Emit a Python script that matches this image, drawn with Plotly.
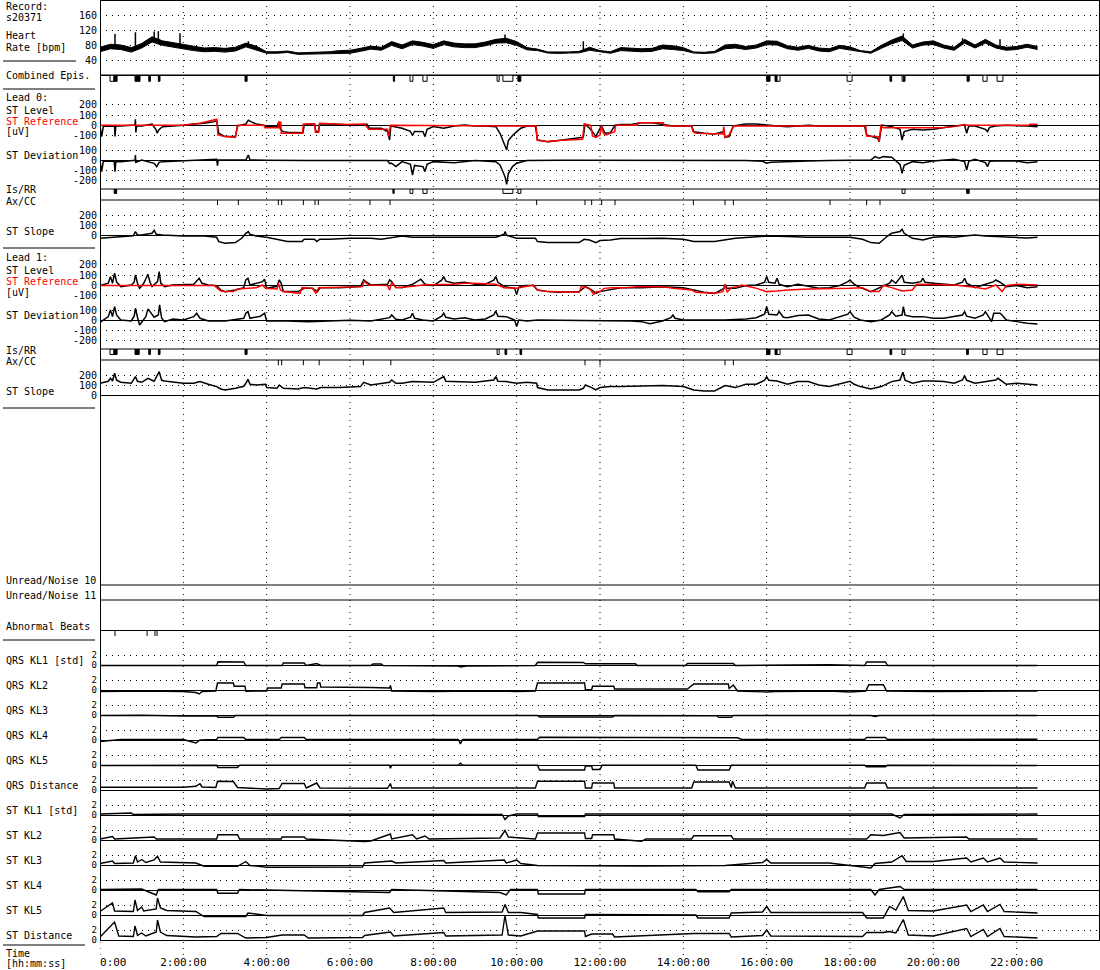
import plotly.graph_objects as go

W, H = 1100, 970
FONT = "DejaVu Sans Mono"

# ---------------- data (time in hours) ----------------
x_tick_vals = [0, 2, 4, 6, 8, 10, 12, 14, 16, 18, 20, 22]
x_tick_text = ["\u00a0\u00a0\u00a0\u00a00:00", "2:00:00", "4:00:00", "6:00:00", "8:00:00", "10:00:00",
               "12:00:00", "14:00:00", "16:00:00", "18:00:00", "20:00:00", "22:00:00"]

hr_t = [i * 0.25 for i in range(91)]
hr_mid = [68, 76, 74, 67, 78, 95, 85, 80, 76, 70, 67, 68, 66, 69, 80, 72, 60, 60, 62, 57, 58, 58, 60, 62,
          62, 67, 73, 70, 84, 75, 86, 82, 76, 86, 80, 78, 78, 83, 90, 92, 84, 70, 67, 60, 59, 60, 61, 70,
          63, 60, 69, 67, 66, 67, 75, 73, 69, 60, 59, 61, 75, 77, 72, 76, 86, 85, 74, 70, 75, 68, 66, 75,
          71, 63, 60, 75, 88, 98, 76, 84, 86, 76, 70, 90, 76, 90, 76, 70, 72, 78, 72]
hr_half = [6, 6, 6, 6, 6, 7, 6, 6, 6, 5, 5, 5, 5, 5, 5, 5, 2, 2, 2, 2, 2, 2, 2, 3,
           4, 4, 4, 4, 5, 5, 5, 5, 5, 5, 5, 5, 5, 5, 5, 6, 5, 3, 2, 1.5, 1.5, 1.5, 2, 4,
           2, 2, 4, 4, 4, 4, 5, 5, 4, 1.5, 1.5, 2, 5, 5, 4, 4, 5, 5, 4, 4, 4, 4, 4, 4,
           4, 2, 2, 4, 5, 6, 4, 4, 5, 4, 4, 5, 4, 5, 4, 4, 4, 4, 4]
hr_spike_t = [0.36, 0.85, 1.3, 1.4, 1.92, 3.56, 9.72, 11.6, 19.28, 20.7, 21.6]
hr_spike_lo = [76, 78, 95, 93, 76, 78, 92, 62, 95, 86, 80]
hr_spike_hi = [109, 114, 116, 117, 111, 90, 108, 90, 111, 98, 95]

l0_lvl_t = [0, 0.04, 0.08, 0.25, 0.35, 0.36, 0.38, 0.5, 0.75, 0.84, 0.85, 0.86, 0.88, 1.0, 1.25, 1.35, 1.37, 1.42,
            1.5, 1.75, 2.0, 2.25, 2.5, 2.75, 2.8, 2.85, 3.0, 3.25, 3.3, 3.5, 3.56, 3.62, 3.75, 3.9, 4.0, 4.25,
            4.29, 4.33, 4.4, 4.5, 4.75, 4.87, 4.9, 5.0, 5.15, 5.18, 5.24, 5.27, 5.5, 5.75, 6.0, 6.25, 6.4, 6.47,
            6.75, 6.9, 6.95, 6.98, 7.25, 7.45, 7.5, 7.55, 7.75, 7.8, 7.85, 8.0, 8.25, 8.5, 8.75, 9.0, 9.25, 9.5,
            9.6, 9.72, 9.76, 9.8, 9.9, 10.0, 10.1, 10.25, 10.45, 10.5, 10.75, 11.0, 11.25, 11.5, 11.6, 11.64,
            11.75, 11.85, 11.9, 12.0, 12.04, 12.12, 12.25, 12.36, 12.5, 12.75, 13.0, 13.25, 13.5, 13.75, 14.0,
            14.2, 14.25, 14.5, 14.75, 14.97, 15.0, 15.1, 15.2, 15.5, 15.75, 16.0, 16.25, 16.5, 16.75, 17.0,
            17.25, 17.5, 17.75, 18.0, 18.35, 18.4, 18.56, 18.66, 18.7, 18.74, 18.76, 19.0, 19.2, 19.25, 19.3,
            19.5, 19.75, 20.0, 20.25, 20.5, 20.75, 20.8, 20.85, 21.0, 21.25, 21.3, 21.35, 21.5, 21.75, 22.0,
            22.25, 22.5]
l0_lvl_v = [-10, -110, -10, -7, -8, -110, -8, -7, 3, 3, 59, -70, -5, -7, 13, -46, -78, -40,
            -13, -7, 0, 13, 20, 36, 50, -78, -111, -111, -7, 13, 50, 36, 13, 3, -13, -13,
            36, -40, -62, -69, -72, -72, 0, 13, 13, -62, -62, 13, 13, 7, 0, 0, 13, -29,
            -29, -62, -144, -7, -29, -60, -100, -60, -62, -111, -40, -13, -29, -7, 3, -7, -7, -13,
            -78, -209, -242, -150, -100, -62, -29, -7, -7, -144, -160, -150, -137, -127, -118, 13,
            -29, -80, -111, -30, -7, -78, -72, 0, 7, 7, 26, 26, 13, -7, -7,
            -7, -62, -78, -85, -62, -118, -111, -7, 13, 13, 0, -7, -13, -7, 0,
            -7, -7, 0, -7, -7, -95, -111, -127, -160, -20, 3, -13, -40, -144, -62,
            -39, -46, -39, -20, -7, 3, -78, -7, -7, -40, -62, -20, -7, 0, 0,
            -7, -13]

l0_ref_t = [0, 2.0, 2.4, 2.8, 2.83, 3.0, 3.25, 3.3, 3.95, 3.96, 4.28, 4.29, 4.34, 4.35, 4.86, 4.88, 5.15, 5.17,
            5.25, 5.27, 5.9, 6.35, 6.45, 6.9, 6.93, 6.97, 9.9, 10.47, 10.49, 10.75, 11.0, 11.58, 11.62, 11.78,
            11.82, 11.9, 12.0, 12.04, 12.08, 12.15, 12.35, 12.38, 12.9, 12.92, 13.52, 13.54, 13.6, 14.2, 14.23,
            14.3, 14.95, 14.97, 15.0, 15.1, 15.2, 18.38, 18.4, 18.68, 18.7, 18.74, 18.8, 20.2, 20.5, 20.75,
            20.8, 22.3, 22.32, 22.5]
l0_ref_v = [0, 0, 20, 59, -95, -111, -118, 0, 0, -23, -23, 30, 30, -78, -78, 13, 13, -69,
            -69, 20, 7, 13, -39, -39, -111, 0, -7, -7, -144, -160, -150, -137, 13, 0,
            -105, -118, -95, 0, -78, -95, -62, 0, 0, 26, 26, 0, -7, -7, -62,
            -78, -85, -13, -118, -95, -7, -7, -105, -111, -160, -7, -23, -23, -13, 7,
            0, 0, 10, 10]

l0_dev_t = [0, 0.04, 0.08, 0.34, 0.36, 0.38, 0.5, 0.84, 0.85, 0.86, 1.0, 1.3, 1.36, 1.42, 1.5, 2.0, 2.8, 2.82,
            2.84, 3.0, 3.5, 3.56, 3.6, 4.0, 4.5, 5.0, 6.0, 6.9, 6.95, 7.0, 7.1, 7.25, 7.45, 7.5, 7.55, 7.75,
            7.8, 7.85, 8.0, 8.5, 9.0, 9.5, 9.6, 9.72, 9.76, 9.8, 9.9, 10.0, 10.25, 10.5, 11.0, 11.5, 12.0,
            12.5, 13.0, 14.0, 15.0, 15.5, 15.9, 16.0, 16.1, 16.5, 17.0, 17.5, 18.0, 18.5, 18.6, 18.7, 18.8,
            19.0, 19.2, 19.25, 19.3, 19.5, 19.75, 20.0, 20.5, 20.75, 20.8, 20.85, 21.0, 21.25, 21.3, 21.35,
            21.5, 22.0, 22.25, 22.5]
l0_dev_v = [-7, -111, -7, -10, -111, -13, -13, 0, 52, -20, 3, -30, -62, -20, -13, -7, 10, -52,
            3, 3, 3, 52, 3, 0, -3, -3, -3, -3, -30, -29, -62, -13, -40, -144, -50, -62,
            -111, -40, -13, -23, -3, -13, -46, -160, -235, -130, -62, -29, -3, 0, 0, 0, 0,
            0, -7, -7, -7, -3, -10, -29, -20, -13, -7, -3, -3, 3, 36, 20, 36,
            30, -40, -127, -50, -13, -23, -7, 10, -13, -95, -10, 10, -23, -62, -10,
            -7, -7, -23, -13]

l0_slope_t = [0, 0.25, 0.5, 0.8, 0.85, 0.9, 1.0, 1.25, 1.3, 1.35, 1.5, 2.0, 2.5, 2.8, 2.85, 3.0, 3.25, 3.4,
              3.5, 3.56, 3.6, 3.75, 4.0, 4.35, 4.5, 4.85, 4.9, 5.15, 5.2, 5.27, 5.5, 6.0, 6.5, 6.75, 7.0,
              7.25, 7.5, 8.0, 9.0, 9.5, 9.7, 9.72, 9.76, 10.0, 10.45, 10.5, 10.75, 11.5, 11.62, 11.75, 11.9,
              12.0, 12.25, 12.5, 13.0, 13.5, 14.0, 14.25, 14.75, 15.0, 15.25, 15.5, 16.0, 16.5, 17.0, 18.0,
              18.3, 18.5, 18.7, 18.9, 19.0, 19.2, 19.25, 19.3, 19.5, 19.75, 20.0, 20.25, 20.5, 20.75, 21.0,
              21.25, 21.5, 21.75, 22.0, 22.25, 22.5]
l0_slope_v = [-30, -20, -13, -5, 37, 3, 3, 20, 50, 10, 3, -7, -7, -20, -63, -80, -73, -30,
              20, 37, 10, -7, -20, -53, -63, -63, -40, -40, -63, -40, -40, -30, -30, -40, -20,
              -7, -20, -20, -20, -20, 10, 37, 0, -30, -30, -63, -73, -73, -40, -47, -73,
              -53, -47, -33, -33, -30, -40, -63, -63, -47, -30, -23, -7, -13, -20, -20,
              -40, -73, -80, -7, 20, 37, 60, 20, -30, -47, -20, -13, -20, -7, 3,
              -7, -13, -20, -20, -27, -20]

l1_lvl_t = [0, 0.2, 0.25, 0.3, 0.35, 0.4, 0.5, 0.75, 0.82, 0.85, 0.9, 0.95, 1.05, 1.15, 1.2, 1.25, 1.38, 1.42,
            1.46, 1.55, 1.75, 2.0, 2.25, 2.38, 2.45, 2.6, 2.8, 2.9, 3.0, 3.25, 3.45, 3.5, 3.55, 3.6, 3.9, 3.95,
            4.0, 4.25, 4.3, 4.35, 4.4, 4.75, 4.9, 5.1, 5.22, 5.28, 5.75, 6.25, 6.33, 6.4, 6.5, 6.9, 6.95, 7.0,
            7.1, 7.25, 7.5, 7.7, 7.75, 7.8, 8.0, 8.2, 8.25, 8.3, 8.5, 8.75, 9.0, 9.25, 9.45, 9.5, 9.55, 9.7,
            9.95, 10.0, 10.05, 10.2, 10.4, 10.5, 10.75, 11.0, 11.5, 11.65, 11.8, 11.9, 12.0, 12.25, 12.5, 13.0,
            13.5, 14.0, 14.25, 14.5, 14.75, 14.98, 15.0, 15.05, 15.25, 15.5, 15.75, 15.95, 16.0, 16.05, 16.2,
            16.25, 16.3, 16.5, 16.75, 17.0, 17.25, 17.5, 17.75, 17.95, 18.0, 18.1, 18.25, 18.5, 18.75, 18.95,
            19.0, 19.1, 19.25, 19.3, 19.5, 19.7, 19.75, 19.8, 20.0, 20.25, 20.5, 20.7, 20.75, 20.8, 21.0,
            21.25, 21.45, 21.5, 21.6, 21.75, 22.0, 22.25, 22.5]
l1_lvl_v = [-3, 20, 85, 20, 118, 30, -13, 3, 30, 102, 20, -30, 20, 108, 30, -13, 36, 134,
            20, -13, 3, 3, 10, 69, 20, 3, -3, -46, -62, -46, -23, 52, 69, 3, 36, 60,
            -30, -10, 52, 20, -62, -62, -30, -30, -62, -23, -23, -13, 52, 30, 3, 10, 52, 36,
            -20, -23, 10, 60, 36, 10, -3, 50, 85, 40, 20, 30, 10, 10, 50, 85, 30, -13,
            -30, -89, -20, -3, -3, -46, -62, -69, -62, -13, -46, -79, -62, -46, -23, -23,
            -13, -23, -46, -69, -79, -30, 10, -30, -30, -3, 3, 30, 85, 30, 20,
            69, 10, -13, 10, -13, -30, -23, -3, 36, 52, 10, -23, -62, -13, 20,
            52, 20, 100, 30, 20, 36, 69, 30, 20, 10, 3, 30, 69, 20, -23,
            10, 36, 52, 30, -13, -3, -23, -13]

l1_ref_t = [0, 2.75, 2.8, 2.9, 3.0, 3.2, 3.3, 3.5, 3.75, 3.9, 3.97, 4.25, 4.28, 4.33, 4.4, 4.8, 4.85, 5.1,
            5.18, 5.25, 6.3, 6.33, 6.45, 6.9, 6.95, 7.0, 7.1, 7.4, 7.75, 8.5, 8.75, 9.0, 9.5, 9.7, 10.0, 10.4,
            10.5, 10.75, 11.2, 11.5, 11.55, 11.75, 11.85, 11.92, 12.0, 12.1, 12.3, 12.6, 12.9, 13.5, 13.75,
            14.2, 14.3, 14.75, 14.95, 15.0, 15.05, 15.15, 15.3, 15.4, 15.7, 16.0, 16.25, 16.5, 17.0, 17.75,
            18.0, 18.3, 18.5, 18.7, 18.8, 19.0, 19.25, 19.5, 19.6, 20.5, 20.9, 21.25, 21.5, 21.65, 21.75,
            22.0, 22.5]
l1_ref_v = [-3, -3, -23, -56, -62, -62, -36, -30, -23, 3, -30, -36, 20, -46, -62, -79, -23, -30,
            -79, -23, -13, 42, 3, -3, -46, 30, -23, -13, 3, 10, 20, 20, 10, -23, -30, 3,
            -46, -62, -69, -69, -13, -30, -89, -62, -62, -30, -23, -23, -13, -13, -30,
            -46, -69, -79, -62, 10, -69, -23, -13, 3, -23, -62, -56, -46, -36, -36,
            -30, -23, -62, -62, 0, -23, -56, -46, 10, 3, -13, -36, 3, -62, -3,
            10, 3]

l1_dev_t = [0, 0.2, 0.25, 0.3, 0.35, 0.4, 0.5, 0.75, 0.82, 0.85, 0.9, 0.95, 1.1, 1.15, 1.2, 1.3, 1.4, 1.43,
            1.48, 1.55, 1.75, 2.0, 2.25, 2.32, 2.4, 2.6, 3.0, 3.45, 3.5, 3.55, 3.6, 3.85, 3.95, 4.0, 4.5, 5.0,
            5.5, 6.0, 6.5, 6.95, 7.0, 7.1, 7.25, 7.45, 7.5, 7.55, 7.75, 8.0, 8.2, 8.25, 8.3, 8.5, 8.75, 9.0,
            9.25, 9.45, 9.5, 9.55, 9.75, 9.95, 10.0, 10.05, 10.25, 10.5, 11.0, 12.0, 12.75, 13.0, 13.2, 13.5,
            13.7, 13.75, 13.8, 14.0, 14.5, 15.0, 15.5, 15.75, 15.95, 16.0, 16.05, 16.25, 16.3, 16.4, 16.5,
            16.75, 17.0, 17.25, 17.5, 17.75, 17.95, 18.0, 18.1, 18.25, 18.5, 18.75, 18.95, 19.0, 19.1, 19.25,
            19.28, 19.32, 19.5, 19.75, 20.0, 20.25, 20.5, 20.7, 20.75, 20.8, 21.0, 21.2, 21.25, 21.35, 21.4,
            21.45, 21.6, 21.65, 21.75, 22.0, 22.25, 22.5]
l1_dev_v = [-20, 36, 102, 36, 134, 50, 3, -7, 40, 118, 30, -46, 36, 110, 85, 30, 52, 151,
            20, -13, 13, 3, 36, 69, 20, -7, -7, 20, 69, 85, 20, 40, 69, -7, -7, -13,
            -7, 0, -7, 26, 52, 10, 3, 30, 69, 20, 3, -7, 40, 69, 30, 13, 26, 3,
            13, 52, 92, 40, 36, 3, -62, 3, -7, 3, 0, 0, -7, -13, -33, -7,
            26, 52, 20, 3, 0, 3, 13, 26, 60, 134, 60, 52, 85, 30, 26,
            46, 52, 13, 3, 36, 60, 85, 30, 3, -13, 3, 52, 85, 40, 52,
            134, 50, 36, 36, 20, 20, 36, 52, 85, 40, 20, 52, 85, 20, -13,
            69, 69, 52, 3, -13, -30, -36]

l1_slope_t = [0, 0.2, 0.25, 0.3, 0.35, 0.4, 0.5, 0.75, 0.85, 0.9, 1.0, 1.15, 1.2, 1.3, 1.42, 1.48, 1.55, 1.75,
              2.0, 2.25, 2.4, 2.6, 2.8, 2.9, 3.0, 3.25, 3.45, 3.5, 3.55, 3.6, 3.75, 3.97, 4.0, 4.25, 4.3, 4.4,
              4.75, 4.9, 5.2, 5.3, 5.75, 6.25, 6.33, 6.5, 6.95, 7.0, 7.1, 7.25, 7.5, 8.0, 8.2, 8.25, 8.3, 8.5,
              9.0, 9.45, 9.5, 9.55, 9.75, 10.0, 10.25, 10.48, 10.5, 10.75, 11.5, 11.6, 11.65, 11.8, 11.9, 12.0,
              12.25, 12.5, 13.0, 13.5, 14.0, 14.25, 14.5, 14.75, 15.0, 15.25, 15.5, 15.75, 15.95, 16.0, 16.05,
              16.25, 16.5, 16.75, 17.0, 17.25, 17.5, 17.75, 18.0, 18.1, 18.25, 18.5, 18.75, 19.0, 19.2, 19.27,
              19.32, 19.5, 19.75, 20.0, 20.25, 20.5, 20.7, 20.75, 20.8, 21.0, 21.25, 21.5, 21.55, 21.75, 22.0,
              22.25, 22.5]
l1_slope_v = [120, 140, 170, 143, 220, 150, 130, 120, 187, 140, 130, 170, 160, 140, 236, 150, 143, 130,
              120, 120, 137, 110, 87, 63, 53, 70, 90, 120, 160, 110, 103, 110, 77, 70, 103, 70,
              63, 77, 63, 77, 77, 87, 130, 103, 130, 153, 120, 120, 137, 130, 170, 187, 140, 137,
              130, 153, 187, 140, 137, 120, 130, 120, 77, 53, 53, 70, 103, 77, 53, 77,
              87, 87, 93, 97, 87, 53, 43, 43, 97, 77, 110, 110, 150, 187, 150,
              143, 110, 137, 137, 103, 87, 110, 140, 110, 87, 63, 87, 137, 153, 230,
              150, 120, 143, 143, 137, 120, 153, 196, 150, 120, 137, 153, 170, 110, 120,
              110, 103]

# event rows: (start h, end h, filled)
comb_epis = [(0.24, 0.33, 0), (0.33, 0.41, 1), (0.84, 0.96, 1), (1.17, 1.21, 1), (1.40, 1.44, 1),
             (3.48, 3.53, 1), (7.04, 7.07, 1), (7.44, 7.51, 0), (7.75, 7.85, 0), (9.53, 9.58, 0),
             (9.67, 9.91, 0), (10.03, 10.10, 1), (16.0, 16.08, 1), (16.2, 16.25, 1), (16.25, 16.32, 0),
             (17.93, 18.05, 0), (18.96, 19.0, 1), (19.25, 19.28, 0), (19.28, 19.32, 1), (20.81, 20.86, 1),
             (21.19, 21.29, 0), (21.53, 21.67, 0)]
l0_isrr = [(0.34, 0.40, 1), (7.03, 7.06, 1), (7.44, 7.51, 0), (7.75, 7.85, 0), (9.67, 9.91, 0),
           (10.03, 10.10, 0), (19.25, 19.32, 0), (20.80, 20.86, 1)]
l1_isrr = [(0.24, 0.33, 0), (0.33, 0.41, 1), (0.84, 0.94, 1), (1.17, 1.21, 1), (1.40, 1.44, 1),
           (3.48, 3.53, 1), (9.53, 9.58, 0), (9.72, 9.76, 1), (10.08, 10.12, 1), (16.0, 16.08, 1),
           (16.2, 16.25, 1), (16.25, 16.32, 0), (17.93, 18.05, 0), (18.96, 19.0, 1), (19.25, 19.32, 0),
           (20.80, 20.84, 1), (21.19, 21.29, 0), (21.53, 21.67, 0)]
l0_ref_marks = [2.82, 3.32, 4.28, 4.36, 4.88, 5.16, 5.24, 6.48, 6.96, 10.48, 11.64, 11.8, 12.04, 12.36,
                14.24, 15.0, 15.2, 17.52, 18.4, 18.72]
l1_ref_marks = [4.28, 4.36, 4.88, 5.26, 6.32, 6.98, 11.64, 12.0, 15.0, 15.2]
abnormal_beats = [0.36, 1.13, 1.32, 1.37]

kl_labels = ["QRS KL1 [std]", "QRS KL2", "QRS KL3", "QRS KL4", "QRS KL5", "QRS Distance",
             "ST KL1 [std]", "ST KL2", "ST KL3", "ST KL4", "ST KL5", "ST Distance"]
kl_t = [
    [0, 2.8, 2.83, 3.45, 3.5, 4.37, 4.4, 4.9, 4.95, 5.2, 5.3, 6.5, 6.55, 6.75, 6.8, 8.6, 8.65, 8.8, 10.45,
     10.5, 11.6, 11.65, 12.85, 12.9, 14.05, 14.1, 15.2, 15.25, 17.5, 18.35, 18.4, 18.85, 18.9, 22.5],
    [0, 1.0, 2.0, 2.3, 2.38, 2.45, 2.78, 2.82, 3.2, 3.22, 3.48, 3.5, 4.0, 4.02, 4.35, 4.37, 4.9, 4.92, 5.2,
     5.22, 5.28, 5.3, 6.5, 6.95, 6.97, 7.0, 8.0, 9.0, 10.0, 10.45, 10.5, 11.63, 11.65, 11.8, 11.82, 12.33,
     12.35, 14.1, 14.25, 15.08, 15.1, 15.2, 15.3, 16.0, 16.2, 17.5, 18.0, 18.38, 18.45, 18.8, 18.88, 20.0,
     22.5],
    [0, 1.0, 2.0, 2.8, 2.83, 3.2, 3.25, 5.0, 7.0, 10.5, 10.55, 12.3, 12.35, 14.8, 14.85, 15.15, 15.2, 18.5,
     18.6, 18.7, 20.0, 22.5],
    [0, 0.5, 2.0, 2.3, 2.4, 2.8, 2.83, 3.45, 3.5, 4.3, 4.35, 4.9, 4.95, 8.6, 8.65, 8.7, 10.5, 10.55, 15.3,
     15.4, 18.35, 18.4, 18.85, 18.9, 22.5],
    [0, 2.8, 2.83, 3.3, 3.35, 6.95, 6.97, 7.0, 8.6, 8.65, 8.7, 10.5, 10.55, 11.63, 11.65, 11.8, 11.82,
     12.0, 12.05, 14.3, 14.35, 15.1, 15.15, 18.35, 18.4, 18.85, 18.9, 22.5],
    [0, 1.0, 2.0, 2.3, 2.4, 2.45, 2.78, 2.82, 3.2, 3.3, 4.0, 4.3, 4.37, 4.9, 4.95, 5.2, 5.28, 6.9, 6.97,
     7.0, 10.45, 10.5, 11.63, 11.65, 11.8, 11.82, 12.33, 12.35, 14.2, 14.25, 15.1, 15.15, 15.18, 15.25,
     18.35, 18.4, 18.85, 18.9, 22.5],
    [0, 0.75, 0.8, 2.0, 4.0, 6.0, 8.0, 9.65, 9.72, 9.8, 10.0, 10.5, 10.52, 11.63, 11.65, 14.0, 16.0, 19.0,
     19.2, 19.3, 22.5],
    [0, 0.3, 0.35, 1.3, 1.35, 2.8, 2.83, 3.3, 3.35, 4.35, 4.37, 4.9, 4.95, 6.35, 6.5, 6.97, 7.0, 7.5, 7.6,
     7.8, 7.9, 9.6, 9.72, 9.8, 10.1, 10.45, 10.5, 11.63, 11.65, 11.8, 11.82, 12.33, 12.35, 13.0, 13.1,
     14.2, 14.25, 15.15, 15.2, 18.4, 18.5, 18.8, 19.2, 19.3, 20.8, 20.85, 22.5],
    [0, 0.3, 0.35, 0.8, 0.85, 0.9, 1.0, 1.1, 1.3, 1.38, 1.45, 1.8, 2.3, 2.5, 3.3, 3.5, 3.6, 4.0, 5.0, 6.3,
     6.35, 7.0, 7.1, 8.25, 8.3, 9.7, 9.75, 10.0, 10.1, 10.5, 13.0, 15.0, 15.9, 16.0, 16.1, 17.5, 18.5, 18.6,
     19.0, 19.25, 19.35, 20.0, 20.8, 20.9, 21.2, 21.3, 21.6, 21.7, 22.5],
    [0, 1.0, 1.35, 1.4, 2.8, 2.83, 3.3, 3.35, 6.95, 7.0, 9.6, 9.75, 9.85, 10.5, 10.52, 11.63, 11.65, 14.3,
     14.35, 15.1, 15.15, 18.5, 18.6, 18.7, 19.2, 19.3, 22.5],
    [0, 0.3, 0.35, 0.8, 0.84, 0.9, 1.0, 1.05, 1.35, 1.38, 1.45, 1.6, 2.3, 2.5, 3.5, 3.55, 4.0, 6.3, 6.35,
     6.95, 7.05, 8.25, 8.3, 9.65, 9.72, 9.8, 10.1, 10.5, 10.52, 11.63, 11.65, 14.3, 14.35, 15.1, 15.15,
     15.9, 16.0, 16.1, 18.3, 18.4, 18.8, 18.95, 19.1, 19.28, 19.4, 20.0, 20.8, 20.9, 21.2, 21.3, 21.6, 21.7,
     22.5],
    [0, 0.35, 0.45, 0.8, 0.84, 0.9, 1.0, 1.1, 1.35, 1.38, 1.45, 1.6, 2.3, 2.8, 2.9, 3.3, 3.5, 4.0, 4.37,
     4.9, 5.0, 6.3, 6.35, 6.97, 7.05, 8.25, 8.3, 9.65, 9.72, 9.8, 10.1, 10.5, 11.63, 11.65, 11.8, 12.3,
     12.35, 14.25, 15.1, 15.15, 15.9, 16.0, 16.1, 18.3, 18.4, 18.8, 18.95, 19.1, 19.28, 19.4, 20.0, 20.8,
     20.9, 21.2, 21.3, 21.6, 21.7, 22.5],
]
kl_v = [
    [-0.1, -0.1, 0.65, 0.6, -0.1, -0.1, 0.4, 0.4, -0.1, 0.3, -0.1, -0.1, 0.2, 0.2, -0.1, -0.2, -0.4, -0.2,
     -0.1, 0.55, 0.5, 0.25, 0.25, -0.1, -0.1, 0.3, 0.3, -0.1, 0.05, -0.1, 0.6, 0.6, -0.1, -0.1],
    [-0.3, -0.2, -0.3, -0.5, -0.8, -0.3, -0.2, 1.4, 1.4, 0.75, 0.75, -0.25, -0.2, 0.4, 0.4, 1.2, 1.2, 0.45,
     0.45, 1.4, 1.4, 0.6, 0.5, 0.4, 0.9, -0.2, -0.3, -0.2, -0.3, -0.2, 1.4, 1.4, 0.05, 0.05, 0.75, 0.75,
     0.2, 0.2, 1.2, 1.2, 0.3, 1.0, -0.2, -0.4, -0.3, -0.2, -0.4, -0.2, 1.05, 1.05, -0.2, -0.3, -0.2],
    [-0.1, -0.05, -0.2, -0.15, -0.45, -0.45, -0.1, -0.15, -0.1, -0.1, -0.4, -0.4, -0.1, -0.15, -0.45,
     -0.45, -0.1, -0.1, -0.3, -0.1, -0.15, -0.1],
    [-0.3, 0.1, 0.1, -0.6, 0.0, 0.1, 0.5, 0.5, 0.1, 0.1, 0.5, 0.5, 0.1, 0.1, -0.8, 0.1, 0.1, 0.55, 0.45,
     0.1, 0.1, 0.5, 0.5, 0.1, 0.15],
    [-0.1, -0.05, -0.5, -0.5, -0.05, -0.05, -0.65, -0.05, 0.0, 0.35, 0.0, -0.05, -1.0, -1.0, -0.2, -0.2,
     -0.9, -0.9, -0.05, -0.05, -1.0, -1.0, -0.05, -0.05, -0.35, -0.35, -0.05, -0.1],
    [0.55, 0.5, 0.55, 0.75, 1.25, 0.6, 0.5, 1.75, 1.7, 0.5, 0.2, 0.3, 1.3, 1.3, 0.4, 1.4, 0.4, 0.35, 1.3,
     0.4, 0.4, 1.75, 1.75, 0.4, 0.4, 1.4, 1.4, 0.4, 0.4, 1.6, 1.6, 0.5, 1.75, 0.4, 0.4, 1.4, 1.4, 0.4, 0.4],
    [0.2, 0.4, 0.1, 0.2, 0.2, 0.2, 0.2, 0.1, -0.9, -0.2, 0.2, 0.2, -0.3, -0.3, 0.2, 0.2, 0.2, 0.2, -0.6,
     0.1, 0.2],
    [0.2, 0.7, 0.2, 0.6, 0.2, 0.2, 1.05, 1.05, 0.2, 0.2, 0.6, 0.6, 0.2, -0.3, -0.2, 1.2, 0.2, 1.05, 0.2,
     0.8, 0.2, 0.4, 1.9, 0.6, 0.4, 0.2, 1.4, 1.4, 0.3, 0.3, 1.05, 1.05, 0.2, -0.25, 0.2, 0.2, 0.85, 0.85,
     0.2, 0.2, 1.05, 0.9, 1.5, 0.4, 0.6, 0.2, 0.2],
    [0.3, 0.8, 0.3, 0.4, 1.85, 0.6, 1.1, 0.5, 1.0, 1.75, 0.6, 0.5, 0.4, -0.25, -0.25, 0.7, -0.1, -0.45,
     -0.4, -0.4, 0.4, 0.8, 0.4, 0.9, 0.4, 1.0, 0.4, 1.0, 0.3, -0.1, -0.2, -0.1, 0.5, 1.1, 0.4, 0.4, -0.6,
     0.3, 0.6, 1.85, 0.7, 0.7, 1.4, 0.6, 1.4, 0.6, 1.4, 0.6, 0.4],
    [0.1, 0.2, -1.0, 0.1, 0.1, -0.65, -0.65, 0.1, -0.5, 0.1, -0.5, -1.0, 0.1, 0.1, -0.8, -0.8, 0.1, 0.1,
     -0.35, -0.35, 0.1, 0.1, -1.0, 0.1, 0.7, 0.1, 0.1],
    [0.7, 2.4, 0.8, 0.7, 3.0, 0.9, 1.6, 0.8, 1.2, 3.4, 1.4, 0.9, 0.7, -0.3, -0.3, 0.4, -0.1, -0.1, 0.5,
     1.4, 0.5, 1.4, 0.5, 0.6, 2.1, 0.5, 0.5, 0.1, -0.6, -0.6, 0.1, 0.0, -0.6, -0.6, 0.4, 0.6, 1.7, 0.5,
     0.5, -0.6, -0.6, 1.7, 1.0, 3.7, 0.9, 0.8, 2.0, 0.7, 2.0, 0.7, 2.1, 0.7, 0.4],
    [0.6, 3.6, 0.8, 0.7, 2.8, 0.9, 1.4, 0.8, 1.6, 4.0, 1.6, 0.9, 0.6, 0.7, 1.3, 1.3, 0.4, 0.5, 1.0, 1.0,
     0.4, 0.5, 0.9, 1.6, 0.8, 1.5, 0.8, 1.0, 4.9, 1.0, 0.8, 1.8, 1.8, 0.7, 1.2, 1.2, 0.6, 1.3, 1.3, 0.6,
     0.9, 2.0, 0.8, 0.7, 1.5, 1.5, 1.7, 1.4, 4.1, 1.0, 0.8, 2.3, 0.7, 2.1, 0.7, 2.3, 0.7, 0.4],
]

# ---------------- figure ----------------
fig = go.Figure()
axis_count = [0]


def rng(zero_px, px_per_unit, top_px, bot_px):
    return [-(bot_px - zero_px) / px_per_unit, (zero_px - top_px) / px_per_unit]


def add_axis(top_px, bot_px, rg, tickvals=None, zeroline=False, size=10, reverse=False):
    axis_count[0] += 1
    n = axis_count[0]
    name = "yaxis" if n == 1 else f"yaxis{n}"
    ref = "y" if n == 1 else f"y{n}"
    cfg = dict(domain=[1 - bot_px / H, 1 - top_px / H], range=rg[::-1] if reverse else rg, anchor="x",
               showline=False, ticks="", fixedrange=True, zeroline=zeroline, zerolinecolor="black",
               zerolinewidth=1, ticklabelstandoff=2, automargin=False,
               tickfont=dict(family=FONT, size=size, color="black"))
    if tickvals:
        cfg.update(tickvals=tickvals, ticktext=[str(v) for v in tickvals], showticklabels=True,
                   showgrid=True, gridcolor="black", griddash="1px,5px", gridwidth=1)
    else:
        cfg.update(showticklabels=False, showgrid=False)
    fig.update_layout({name: cfg})
    return ref


def line(t, v, yref, color="black", width=1.5):
    fig.add_trace(go.Scatter(x=t, y=v, mode="lines", xaxis="x", yaxis=yref,
                             line=dict(color=color, width=width), hoverinfo="skip", showlegend=False))


def events(ev, yref, height):
    for filled in (1, 0):
        sel = [e for e in ev if e[2] == filled]
        if not sel:
            continue
        fig.add_trace(go.Bar(x=[(a + b) / 2 for a, b, _ in sel], width=[b - a for a, b, _ in sel],
                             y=[height] * len(sel), base=0, xaxis="x", yaxis=yref,
                             marker=dict(color="black" if filled else "white",
                                         line=dict(color="black", width=1)),
                             hoverinfo="skip", showlegend=False))


def ticks_row(times, yref, yval, size=5):
    fig.add_trace(go.Scatter(x=times, y=[yval] * len(times), mode="markers", xaxis="x", yaxis=yref,
                             marker=dict(symbol="line-ns", size=size, line=dict(color="black", width=1)),
                             hoverinfo="skip", showlegend=False))


# Heart rate
y_hr = add_axis(0, 75, [0, 200], [40, 80, 120, 160], zeroline=True)
fig.add_trace(go.Scatter(x=hr_t, y=[m - h for m, h in zip(hr_mid, hr_half)], mode="lines", xaxis="x",
                         yaxis=y_hr, line=dict(color="black", width=1), hoverinfo="skip", showlegend=False))
fig.add_trace(go.Scatter(x=hr_t, y=[m + h for m, h in zip(hr_mid, hr_half)], mode="lines", xaxis="x",
                         yaxis=y_hr, fill="tonexty", fillcolor="black", line=dict(color="black", width=1),
                         hoverinfo="skip", showlegend=False))
sx, sy = [], []
for t, lo, hi in zip(hr_spike_t, hr_spike_lo, hr_spike_hi):
    sx += [t, t, None]
    sy += [lo, hi, None]
line(sx, sy, y_hr, width=1.5)

# Combined episodes
y_ce = add_axis(75, 89, [0, 1], reverse=True)
events(comb_epis, y_ce, 0.45)

# Lead 0
y_l0l = add_axis(88, 189, rng(125.3, 0.102, 88, 189), [-100, 0, 100, 200], zeroline=True)
y_l0d = add_axis(88, 189, rng(160.3, 0.102, 88, 189), [-200, -100, 0, 100], zeroline=True)
line(l0_lvl_t, l0_lvl_v, y_l0l)
line(l0_ref_t, l0_ref_v, y_l0l, color="#ff0000", width=1.5)
line(l0_dev_t, l0_dev_v, y_l0d)
y_l0i = add_axis(189, 200, [0, 1], reverse=True)
events(l0_isrr, y_l0i, 0.4)
y_l0s = add_axis(200, 249, rng(235.3, 0.1, 200, 249), [0, 100, 200], zeroline=True)
line(l0_slope_t, l0_slope_v, y_l0s)
ticks_row(l0_ref_marks, y_l0s, 330, 4)

# Lead 1
y_l1l = add_axis(249, 349, rng(285.3, 0.102, 249, 349), [-100, 0, 100, 200], zeroline=True)
y_l1d = add_axis(249, 349, rng(320.3, 0.102, 249, 349), [-200, -100, 0, 100], zeroline=True)
line(l1_lvl_t, l1_lvl_v, y_l1l)
line(l1_ref_t, l1_ref_v, y_l1l, color="#ff0000", width=1.5)
line(l1_dev_t, l1_dev_v, y_l1d)
y_l1i = add_axis(349, 360, [0, 1], reverse=True)
events(l1_isrr, y_l1i, 0.5)
y_l1s = add_axis(360, 408, rng(395.3, 0.1, 360, 408), [0, 100, 200], zeroline=True)
line(l1_slope_t, l1_slope_v, y_l1s)
ticks_row(l1_ref_marks, y_l1s, 328, 4)

# Abnormal beats
y_ab = add_axis(630, 640, [0, 1], reverse=True)
ticks_row(abnormal_beats, y_ab, 0.25, 5)

# KL rows
for k in range(12):
    base = 665 + 25 * k
    yr = add_axis(base - 27, base + 6, rng(base, 5.0, base - 27, base + 6), [0, 2], zeroline=True, size=9)
    line(kl_t[k], kl_v[k], yr, width=1.4)

fig.update_layout(
    width=W, height=H, margin=dict(l=0, r=0, t=0, b=0, autoexpand=False),
    paper_bgcolor="white", plot_bgcolor="rgba(0,0,0,0)", showlegend=False, bargap=0,
    font=dict(family=FONT, size=10, color="black"),
    xaxis=dict(domain=[100 / W, 1], range=[0, 24], anchor="free", position=1 - 954 / H,
               showgrid=False, zeroline=False, showline=False, ticks="", fixedrange=True, automargin=False,
               tickvals=x_tick_vals, ticktext=x_tick_text,
               tickfont=dict(family=FONT, size=11, color="black")),
)

shapes = []
for t in x_tick_vals:
    shapes.append(dict(type="line", xref="x", yref="paper", x0=t, x1=t, y0=1 - 955 / H, y1=1,
                       line=dict(color="black", width=1, dash="1px,5px"), layer="below"))


def hline(px, x0=100, x1=1099.5, width=1):
    shapes.append(dict(type="line", xref="paper", yref="paper", x0=x0 / W, x1=x1 / W,
                       y0=1 - px / H, y1=1 - px / H, line=dict(color="black", width=width)))


for p in [0.5, 75, 189, 200, 349, 360, 585, 600, 630.5]:
    hline(p)
shapes.append(dict(type="line", xref="paper", yref="paper", x0=100.5 / W, x1=100.5 / W, y0=1 - 941 / H,
                   y1=1, line=dict(color="black", width=1)))
shapes.append(dict(type="line", xref="paper", yref="paper", x0=1099.5 / W, x1=1099.5 / W, y0=1 - 941 / H,
                   y1=1, line=dict(color="black", width=1)))
for p, x1 in [(61, 76), (89, 95), (248, 95), (408, 95), (640, 95), (945, 85)]:
    hline(p, 3, x1)
fig.update_layout(shapes=shapes)

labels = [("Record:", 7), ("s20371", 17), ("Heart", 36), ("Rate [bpm]", 47), ("Combined Epis.", 76),
          ("Lead 0:", 98), ("ST Level", 110), ("ST Reference", 121), ("[uV]", 132), ("ST Deviation", 155),
          ("Is/RR", 190), ("Ax/CC", 201), ("ST Slope", 231),
          ("Lead 1:", 258), ("ST Level", 270), ("ST Reference", 281), ("[uV]", 292), ("ST Deviation", 316),
          ("Is/RR", 350), ("Ax/CC", 361), ("ST Slope", 391),
          ("Unread/Noise 10", 580), ("Unread/Noise 11", 595), ("Abnormal Beats", 626),
          ("Time", 953), ("[hh:mm:ss]", 963)]
for k, name in enumerate(kl_labels):
    labels.append((name, 660 + 25 * k))
for txt, ypx in labels:
    fig.add_annotation(text=txt, xref="paper", yref="paper", x=4 / W, y=1 - ypx / H, xanchor="left",
                       yanchor="middle", showarrow=False,
                       font=dict(family=FONT, size=10, color="#ff0000" if txt == "ST Reference" else "black"))

fig.write_html("out.html", config={"displayModeBar": False, "staticPlot": True},
               post_script="document.body.style.margin='0';document.body.style.overflow='hidden';")
